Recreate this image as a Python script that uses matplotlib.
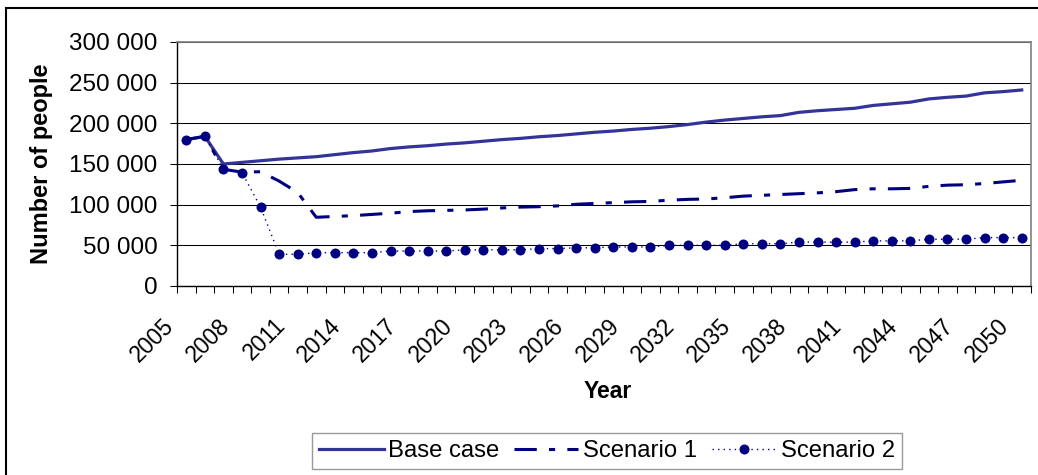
import matplotlib
matplotlib.use("Agg")
from matplotlib import pyplot as plt
import matplotlib.ticker as mticker
import matplotlib.transforms as mtransforms

# data
years = list(range(2005, 2051))
base_case = [180000, 184000, 150000, 152000, 154000, 156000, 157500, 159000, 161500, 164000,
             166000, 169000, 171000, 172500, 174500, 176000, 178000, 180000, 181500, 183500,
             185000, 187000, 189000, 190500, 192500, 194000, 196000, 198500, 201500, 204000,
             206000, 208000, 209500, 213500, 215500, 217000, 218500, 222000, 224000, 226000,
             230000, 232000, 233500, 237500, 239000, 241000]
scenario_1 = [180000, 184000, 143500, 140000, 140500, 129000, 115000, 84500, 85500, 86500,
              88000, 89500, 91500, 92500, 93000, 93500, 94500, 96000, 97000, 97500,
              98500, 100500, 101500, 102500, 103500, 104000, 105500, 106500, 107000, 108500,
              110500, 111500, 112500, 113500, 114500, 116000, 118500, 119500, 119500, 120000,
              122500, 124000, 124500, 126000, 128000, 130000]
scenario_2 = [180000, 184000, 143500, 139500, 97000, 39000, 39000, 41000, 41000, 41000,
              41000, 43000, 43000, 43000, 43000, 44500, 44500, 44500, 44500, 46000,
              46000, 47000, 47000, 48000, 48000, 48000, 50000, 50000, 50000, 50000,
              52000, 52000, 52000, 54000, 54000, 54000, 54000, 55500, 55500, 55500,
              57500, 57500, 57500, 59500, 59500, 59500]
series_names = ["Base case", "Scenario 1", "Scenario 2"]

plt.rcParams['font.family'] = ['Liberation Sans', 'DejaVu Sans']

W, H = 1038, 475
fig = plt.figure(figsize=(W / 100, H / 100), dpi=100)
ax = fig.add_axes([177 / W, 1 - 286 / H, (1031 - 177) / W, (286 - 42) / H])

ax.plot(years, base_case, color='#333399', lw=2.3, label=series_names[0], zorder=3)
ax.plot(years, scenario_1, color='#000080', lw=2.2, linestyle=(0, (7.3, 4, 2, 4)),
        label=series_names[1], zorder=4)
ax.plot(years, scenario_2, color='#000080', lw=1.0, linestyle=(0, (1, 3)),
        marker='o', markersize=7.2, markeredgewidth=0, label=series_names[2], zorder=5)

ax.set_xlim(2004.5, 2050.5)
ax.set_ylim(0, 300000)
ax.yaxis.set_major_locator(mticker.MultipleLocator(50000))
ax.yaxis.set_major_formatter(mticker.FuncFormatter(lambda v, p: f"{int(v):,}".replace(",", " ")))
ax.grid(axis='y', color='black', lw=0.75, zorder=1)
ax.tick_params(axis='y', direction='out', length=5, width=0.75, pad=9, labelsize=17.5)

# category boundaries get the tick marks, labels sit on every third year
ax.set_xticks(years[::3])
ax.set_xticklabels([str(y) for y in years[::3]])
ax.set_xticks([y - 0.5 for y in years] + [years[-1] + 0.5], minor=True)
ax.tick_params(axis='x', which='major', length=0, pad=26, labelsize=16.5)
ax.tick_params(axis='x', which='minor', direction='out', length=5, width=0.75)
shift = mtransforms.ScaledTranslation(-16 / 100, 0, fig.dpi_scale_trans)
for t in ax.get_xticklabels():
    t.set_rotation(45)
    t.set_ha('right')
    t.set_va('center')
    t.set_rotation_mode('anchor')
    t.set_transform(t.get_transform() + shift)

for s in ['left', 'bottom']:
    ax.spines[s].set_color('black')
    ax.spines[s].set_linewidth(1.0)
for s in ['top', 'right']:
    ax.spines[s].set_color('#808080')
    ax.spines[s].set_linewidth(1.2)

fig.text(42 / W, 1 - 164 / H, "Number of people", rotation=90, ha='center', va='center',
         fontsize=17, fontweight='bold')
fig.text(608 / W, 1 - 392 / H, "Year", ha='center', va='center', fontsize=16.5, fontweight='bold')

leg = fig.legend(loc='center', bbox_to_anchor=((308 + 906) / 2 / W, 1 - 451 / H), ncol=3,
                 fontsize=17.2, frameon=True, fancybox=False, handlelength=2.7,
                 handletextpad=0.2, columnspacing=0.6, borderpad=0.3)
leg.get_frame().set_edgecolor('#808080')
leg.get_frame().set_linewidth(1.0)

# outer chart border (only left and top visible in the picture)
fig.add_artist(plt.Rectangle((5.5 / W, -0.1), 1.2, 1.1 - 7.5 / H, transform=fig.transFigure,
                             fill=False, edgecolor='black', lw=1.5))

fig.savefig("out.png", dpi=100)
